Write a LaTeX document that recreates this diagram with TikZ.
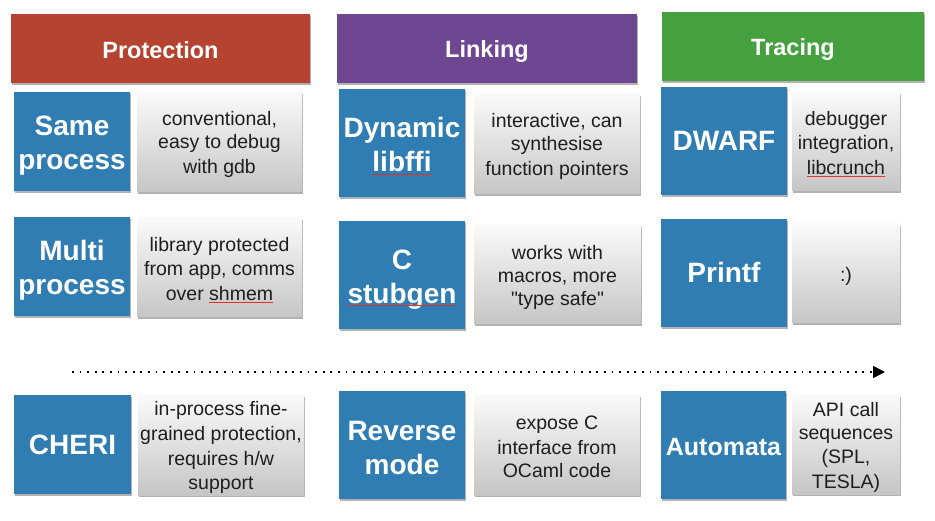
\documentclass[tikz,border=0pt]{standalone}
\usepackage{fontspec}
\setmainfont{Liberation Sans}
\newfontfamily\qfont{Liberation Sans}
\usetikzlibrary{shadows,arrows.meta}
\definecolor{hdrred}{HTML}{B5432F}
\definecolor{hdrpurple}{HTML}{6E4692}
\definecolor{hdrgreen}{HTML}{45A03F}
\definecolor{tileblue}{HTML}{2F7DB2}
\definecolor{txtdark}{HTML}{1E1E1E}
\definecolor{squigred}{HTML}{E0302A}
\newsavebox\sqbox
\newcommand\squig[1]{\leavevmode\sbox\sqbox{#1}\rlap{\textcolor{squigred}{\rule[-3pt]{\wd\sqbox}{1.4pt}}}\usebox\sqbox}
\newcommand\tls{\rule[-4pt]{0pt}{32pt}}
\newcommand\sls{\rule[-4pt]{0pt}{28pt}}
\newcommand\nls{\rule[-3pt]{0pt}{22.5pt}}
\newcommand\hls{\rule[-2pt]{0pt}{24pt}}
\newcommand\dq{{\qfont"}}
\tikzset{
  shd/.style={drop shadow={shadow xshift=1pt,shadow yshift=-2pt,opacity=0.3,fill=black}},
  hdr/.style={rectangle, inner sep=0pt, text=white, shd,
    font=\fontsize{23.5}{28}\selectfont\bfseries},
  tile/.style={rectangle, inner sep=0pt, fill=tileblue, text=white, align=center, shd,
    font=\fontsize{28}{34}\selectfont\bfseries},
  note/.style={rectangle, inner sep=0pt, top color=gray!4, bottom color=gray!45, text=txtdark,
    align=center, shd, font=\fontsize{19.5}{23}\selectfont},
  timeline/.style={line width=1.8pt, dash pattern=on 1.8pt off 5.8pt, -{Triangle[length=12pt,width=12pt]}},
  spellmark/.style={draw=squigred, line width=1.4pt},
}
\begin{document}
\begin{tikzpicture}[x=1pt,y=-1pt]
\useasboundingbox (0,0) rectangle (935,521);
% headers
\node[hdr, fill=hdrred, minimum width=299pt, minimum height=69pt] (prot) at (160.5,48.5) {\hls Protection};
\node[hdr, fill=hdrpurple, minimum width=300pt, minimum height=69pt] (link) at (487,48.5) {\hls Linking};
\node[hdr, fill=hdrgreen, minimum width=262pt, minimum height=69pt] (trac) at (793,46.5) {\hls Tracing};
% row 1
\node[tile, minimum width=116pt, minimum height=99pt] (same) at (72,141.5) {\tls Same\\\tls process};
\node[note, minimum width=165pt, minimum height=100pt] (samet) at (219.5,142) {\nls conventional,\\\nls easy to debug\\\nls with gdb};
\node[tile, minimum width=126pt, minimum height=108pt] (dyn) at (402,143) {\tls Dynamic\\\tls\squig{libffi}};
\node[note, minimum width=166pt, minimum height=100pt] (dynt) at (557,144) {\nls interactive, can\\\nls synthesise\\\nls function pointers};
\node[tile, minimum width=126pt, minimum height=108pt] (dwarf) at (724,141) {\sls DWARF};
\node[note, minimum width=108pt, minimum height=99pt] (dwarft) at (846,141.5) {\nls debugger\\\nls integration,\\\nls\squig{libcrunch}};
% row 2
\node[tile, minimum width=116pt, minimum height=99pt] (multi) at (72,266.5) {\tls Multi\\\tls process};
\node[note, minimum width=165pt, minimum height=99pt] (multit) at (219.5,267.5) {\nls library protected\\\nls from app, comms\\\nls over \squig{shmem}};
\node[tile, minimum width=126pt, minimum height=108pt] (cstub) at (402,275) {\tls C\\\tls stubgen};
\draw[spellmark] ([xshift=-54pt,yshift=-30.5pt]cstub.center) -- ([xshift=54pt,yshift=-30.5pt]cstub.center);
\node[note, minimum width=167pt, minimum height=99pt] (cstubt) at (557.5,274.5) {\nls works with\\\nls macros, more\\\nls\dq type safe\dq};
\node[tile, minimum width=126pt, minimum height=108pt] (printf) at (724,273) {\sls Printf};
\node[note, minimum width=108pt, minimum height=99pt] (printft) at (846,273.5) {\nls :)};
% timeline
\coordinate (tl0) at (72,372);
\coordinate (tl1) at (885,372);
\draw[timeline] (tl0) -- (tl1);
% row 3
\node[tile, minimum width=117pt, minimum height=99pt] (cheri) at (72.5,444.5) {\sls CHERI};
\node[note, minimum width=166pt, minimum height=100pt] (cherit) at (221,445) {\nls in-process fine-\\\nls grained protection,\\\nls requires h/w\\\nls support};
\node[tile, minimum width=126pt, minimum height=108pt] (rev) at (402,445) {\tls Reverse\\\tls mode};
\node[note, minimum width=166pt, minimum height=100pt] (revt) at (557,445) {\nls expose C\\\nls interface from\\\nls OCaml code};
\node[tile, minimum width=125pt, minimum height=108pt, font=\fontsize{25}{30}\selectfont\bfseries] (auto) at (723.5,445) {\sls Automata};
\node[note, minimum width=108pt, minimum height=99pt] (autot) at (846,444.5) {\nls API call\\\nls sequences\\\nls (SPL,\\\nls TESLA)};
\end{tikzpicture}
\end{document}
